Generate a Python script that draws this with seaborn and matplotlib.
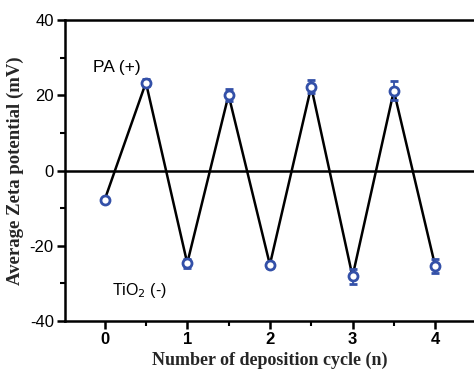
import matplotlib
matplotlib.use("Agg")
import matplotlib.pyplot as plt
import seaborn as sns
import pandas as pd
from matplotlib.ticker import MultipleLocator

# Zeta potential after each half-cycle of layer deposition
cycle = [0, 0.5, 1, 1.5, 2, 2.5, 3, 3.5, 4]
zeta = [-7.8, 23.4, -24.6, 20.1, -25.0, 22.3, -28.1, 21.2, -25.3]
zeta_err = [0.5, 1.0, 1.2, 1.5, 0.8, 1.8, 2.0, 2.5, 1.8]

df = pd.DataFrame({"cycle": cycle, "zeta": zeta, "err": zeta_err})

sns.set_theme(style="ticks")
plt.rcParams["font.family"] = ["Liberation Sans", "DejaVu Sans"]
plt.rcParams["axes.unicode_minus"] = False

fig = plt.figure(figsize=(4.74, 3.80), dpi=100)
ax = fig.add_axes([0.137, 0.155, 0.863, 0.792])

sns.lineplot(data=df, x="cycle", y="zeta", color="black", lw=1.8,
             ax=ax, zorder=2)
ax.errorbar(df["cycle"], df["zeta"], yerr=df["err"], fmt="o",
            ms=6.5, mfc="white", mec="#3350a8", mew=2.0,
            ecolor="#3350a8", elinewidth=1.3, capsize=3, capthick=1.3,
            zorder=3)
ax.axhline(0, color="black", lw=1.8, zorder=1)

ax.set_xlim(-0.48, 4.47)
ax.set_ylim(-40, 40)
ax.xaxis.set_major_locator(MultipleLocator(1))
ax.xaxis.set_minor_locator(MultipleLocator(0.5))
ax.yaxis.set_major_locator(MultipleLocator(20))
ax.yaxis.set_minor_locator(MultipleLocator(10))

for side in ["left", "bottom", "top"]:
    ax.spines[side].set_linewidth(1.8)
    ax.spines[side].set_color("black")
ax.spines["right"].set_visible(False)

ax.tick_params(axis="both", which="major", direction="out", length=6,
               width=1.8, colors="black", labelsize=12)
ax.tick_params(axis="y", which="major", pad=2)
ax.tick_params(axis="x", which="major", pad=2)
ax.tick_params(axis="both", which="minor", direction="out", length=3.5,
               width=1.5, colors="black")
ax.tick_params(top=False, which="both")
for lbl in ax.get_xticklabels():
    lbl.set_fontweight("bold")

ax.set_xlabel("Number of deposition cycle (n)", family="Liberation Serif",
              fontweight="bold", fontsize=13, labelpad=3)
ax.set_ylabel("Average Zeta potential (mV)", family="Liberation Serif",
              fontweight="bold", fontsize=13.5, labelpad=4)

ax.text(-0.145, 26.2, "PA (+)", fontsize=12.5, color="black")
ax.text(0.085, -33.0, "TiO$_2$ (-)", fontsize=11.5, color="black")

fig.savefig("out.png", dpi=100, facecolor="white")
